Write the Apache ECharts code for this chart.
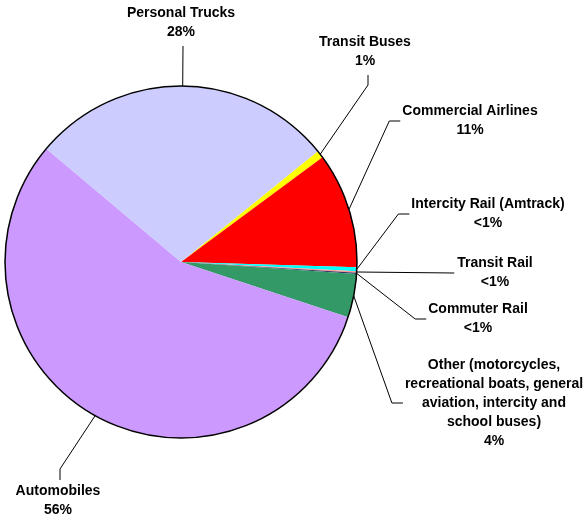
<!DOCTYPE html>
<html>
<head>
<meta charset="utf-8">
<script src="https://cdn.jsdelivr.net/npm/echarts@6/dist/echarts.min.js"></script>
<style>
html,body{margin:0;padding:0;background:#fff;}
#chart{width:586px;height:519px;}
</style>
</head>
<body>
<div id="chart"></div>
<script>
// ---- data ----
var categories = [
  'Transit Buses',
  'Commercial Airlines',
  'Intercity Rail (Amtrack)',
  'Transit Rail',
  'Commuter Rail',
  'Other (motorcycles,\nrecreational boats, general\naviation, intercity and\nschool buses)',
  'Automobiles',
  'Personal Trucks'
];
var values = [0.7, 10.6, 0.35, 0.15, 0.1, 4.0, 56.0, 28.0];
var shareLabels = ['1%', '11%', '<1%', '<1%', '<1%', '4%', '56%', '28%'];

// ---- styling / layout ----
var colors = ['#FFFF00', '#FF0000', '#00FFFF', '#FF9999', '#333366', '#339966', '#CC99FF', '#CCCCFF'];
// label block centres
var labelPos = [
  [365, 52], [470, 121], [488, 214], [495, 273], [478, 319], [494, 403], [58, 501], [181, 23]
];
// leader style: how the line meets the label
var leaderKind = ['bottomElbow', 'leftElbow', 'leftElbow', 'left', 'leftElbow', 'leftElbow', 'topElbow', 'bottom'];

var chart = echarts.init(document.getElementById('chart'), null, {renderer: 'canvas'});
var data = categories.map(function (c, i) {
  return {name: c, value: values[i], itemStyle: {color: colors[i]}};
});

chart.setOption({
  animation: false,
  series: [
    {
      type: 'pie',
      center: [181, 262],
      radius: 176,
      startAngle: 39,
      clockwise: true,
      avoidLabelOverlap: false,
      data: data,
      itemStyle: {borderWidth: 0},
      label: {
        show: true,
        formatter: function (p) { return p.name + '\n' + shareLabels[p.dataIndex]; },
        fontFamily: 'Liberation Sans, Arial, sans-serif',
        fontWeight: 'bold',
        fontSize: 14,
        lineHeight: 19,
        color: '#000',
        align: 'center'
      },
      labelLine: {
        show: true,
        lineStyle: {color: '#000', width: 1}
      },
      labelLayout: function (params) {
        var i = params.dataIndex;
        var p = labelPos[i];
        var w = params.labelRect.width, h = params.labelRect.height;
        var left = p[0] - w / 2, top = p[1] - h / 2, bottom = p[1] + h / 2;
        var p0 = params.labelLinePoints ? params.labelLinePoints[0] : null;
        var pts;
        if (p0) {
          switch (leaderKind[i]) {
            case 'bottom': pts = [p0, [p[0] + 2, bottom + 4]]; break;
            case 'bottomElbow': pts = [p0, [p[0] + 3, bottom + 14], [p[0] + 3, bottom + 4]]; break;
            case 'topElbow': pts = [p0, [p[0] + 2, top - 13], [p[0] + 2, top - 2]]; break;
            case 'left': pts = [p0, [left - 3, p[1]]]; break;
            default: pts = [p0, [left - 13, p[1]], [left - 2, p[1]]];
          }
        }
        var out = {x: p[0], y: p[1], align: 'center', verticalAlign: 'middle'};
        if (pts) out.labelLinePoints = pts;
        return out;
      },
      emphasis: {disabled: true}
    },
    {
      type: 'pie',
      center: [181, 262],
      radius: 176,
      silent: true,
      data: [{value: 1, name: 'outline'}],
      itemStyle: {color: 'rgba(0,0,0,0)', borderColor: '#000', borderWidth: 1.5},
      label: {show: false},
      labelLine: {show: false},
      emphasis: {disabled: true}
    }
  ]
});
</script>
</body>
</html>
